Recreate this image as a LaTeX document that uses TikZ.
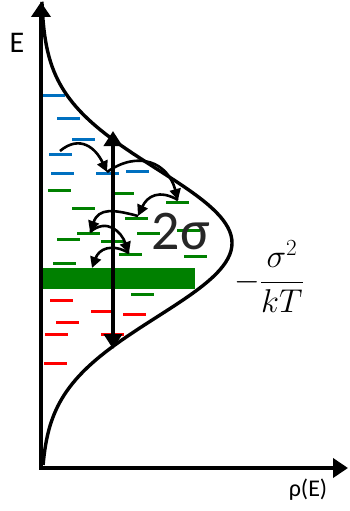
\RequirePackage{fix-cm}
\documentclass[tikz,border=0pt]{standalone}
\usepackage{amsmath}
\usepackage{fontspec}
\newfontfamily\calfont{Carlito}
\usetikzlibrary{arrows.meta}
\definecolor{levelblue}{RGB}{0,112,192}
\definecolor{levelgreen}{RGB}{0,128,0}
\definecolor{levelred}{RGB}{255,0,0}
\definecolor{textgray}{RGB}{38,38,38}

\begin{document}
\begin{tikzpicture}[x=1pt,y=-1pt,
  axis/.style={line width=4.2pt,
               {Triangle[length=15pt,width=19pt]}-{Triangle[length=15pt,width=19pt]}},
  dos/.style={line width=3.4pt},
  level/.style={line width=3pt},
  hop/.style={line width=2.6pt, -{Triangle[length=11pt,width=11pt]}, looseness=1.3},
  spread/.style={line width=4.4pt,
                 {Triangle[length=15pt,width=18pt]}-{Triangle[length=15pt,width=18pt]}},
  lbl/.style={inner sep=0pt, font=\calfont\fontsize{30}{32}\selectfont}]
  \useasboundingbox (0,0) rectangle (349,511);
  \def\dl{23}
  % axes
  \coordinate (Etop) at (41,2);
  \coordinate (O) at (41,468);
  \coordinate (rhoend) at (348,468);
  \node[lbl] (Elabel) at (17,43) {E};
  \node[lbl, font=\calfont\fontsize{24}{26}\selectfont] (rholabel) at (308,490) {ρ(E)};
  % energy levels
  \foreach \x/\y in {42/95,57/118,72/139,49/154,51/173,96/173,126/171}
    \draw[level, levelblue] (\x,\y) -- ++(\dl,0);
  \foreach \x/\y in {48/190,111/193,72/208,166/202,125/218,77/233,57/239,101/241,
                     137/233,177/230,119/254,53/263,184/256,131/294}
    \draw[level, levelgreen] (\x,\y) -- ++(\dl,0);
  \foreach \x/\y in {50/300,91/311,123/314,56/322,45/334,101/334,44/363}
    \draw[level, levelred] (\x,\y) -- ++(\dl,0);
  \fill[levelgreen] (43,268) rectangle (195,289);
  % density of states
  \draw[dos] plot[domain=-3.26:3.0, samples=120]
    ({41+191*exp(-0.5*\x*\x)}, {243+74*\x});
  \draw[axis] (Etop) -- (O) -- (rhoend);
  \node[lbl, text=textgray, font=\calfont\fontsize{56}{60}\selectfont] (width) at (181,232) {2σ};
  \node[inner sep=0pt] (shift) at (269,277) {\fontsize{33}{36}\selectfont$-\dfrac{\sigma^2}{kT}$};
  % hopping
  \coordinate (h0) at (60,151);
  \coordinate (h1) at (107,172);
  \coordinate (h2) at (178,200);
  \coordinate (h3) at (138,216);
  \coordinate (h4) at (90,232);
  \coordinate (h5) at (129,253);
  \coordinate (h6) at (92,268);
  \draw[hop] (h0) to[out=40,in=115] (h1);
  \draw[hop] (h1) to[out=35,in=105] (h2);
  \draw[hop] (h2) to[out=150,in=65] (h3);
  \draw[hop] (h3) to[out=165,in=70] (h4);
  \draw[hop] (h4) to[out=40,in=110] (h5);
  \draw[hop] (h5) to[out=150,in=70] (h6);
  \coordinate (stop) at (113,131);
  \coordinate (sbot) at (113,349);
  \draw[spread] (stop) -- (sbot);
\end{tikzpicture}
\end{document}
